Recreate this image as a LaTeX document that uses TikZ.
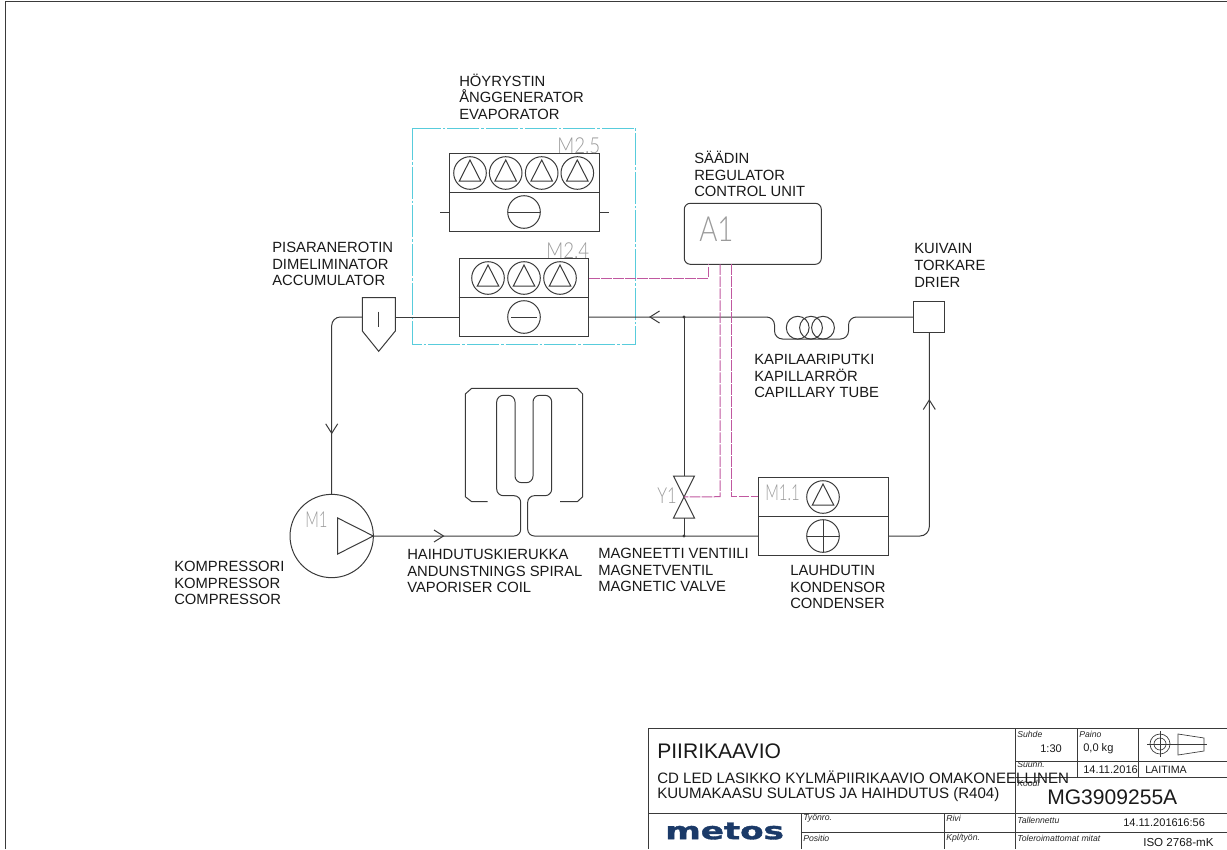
\documentclass[tikz,border=0pt]{standalone}
\usepackage{fontspec}
\usepackage{graphicx}
\setmainfont{Liberation Sans}
\newfontfamily\symfont{Lato Light}
\newfontfamily\logofont[FakeBold=1.5]{DejaVu Sans}
\definecolor{linegray}{HTML}{3A3A3A}
\definecolor{symgray}{HTML}{9A9A9A}
\definecolor{wirepink}{HTML}{C058A0}
\definecolor{boxcyan}{HTML}{58CCDC}
\definecolor{logoblue}{HTML}{1B3A68}
\tikzset{
    pipe/.style={draw=linegray, line width=0.75pt},
    unitbox/.style={draw=linegray, line width=0.75pt, inner sep=0pt},
    wire/.style={draw=wirepink, line width=0.75pt, dash pattern=on 8pt off 1pt},
    label/.style={anchor=west, align=left, inner sep=0pt, text=black!90,
        font=\fontsize{11.1}{12.45}\selectfont},
    symtext/.style={anchor=base west, inner sep=0pt, text=symgray, font=\symfont\fontsize{16.5}{18}\selectfont},
    small/.style={anchor=west, inner sep=0pt, text=black!85, font=\itshape\fontsize{6.5}{7}\selectfont},
    cell/.style={anchor=west, inner sep=0pt, text=black!90, font=\fontsize{10}{12}\selectfont},
    fan/.pic={
        \draw[pipe] (0,0) circle [radius=16.3];
        \draw[pipe] (0,-13) -- (10.7,8) -- (-10.7,8) -- cycle;
    },
    vtip/.pic={
        \draw[pipe] (-9.5,-6) -- (0,0) -- (-9.5,6);
    }
}
\begin{document}
\begin{tikzpicture}[x=0.75pt, y=-0.75pt]

    \useasboundingbox (0,0) rectangle (1227,849);

    % --- Sheet Frame ---
    \coordinate (SheetBL) at (5,849);
    \coordinate (SheetTL) at (5,1.5);
    \coordinate (SheetTR) at (1227,1.5);
    \draw[pipe] (SheetBL) -- (SheetTL) -- (SheetTR);

    % --- Define Coordinates ---
    % Main pipe heights
    \coordinate (Junction) at (684,317);
    \coordinate (ValveTop) at (684,476);
    \coordinate (ValveMid) at (684,497);
    \coordinate (ValveBot) at (684,518);
    \coordinate (Tee) at (684,536);

    % Accumulator ends
    \coordinate (AccuW) at (362.3,317);
    \coordinate (AccuE) at (395.3,317);

    % --- Evaporator ---
    \coordinate (EvapNW) at (412.7,128);
    \coordinate (EvapSE) at (635.7,344.3);
    \draw[draw=boxcyan, line width=0.7pt, dash pattern=on 24pt off 1.5pt on 2pt off 1.5pt] (EvapNW) rectangle (EvapSE);

    \node[unitbox, minimum width=112.5pt, minimum height=58.8pt] (EvapUpper) at (524.3,192.5) {};
    \node[unitbox, minimum width=97.2pt, minimum height=58.5pt] (EvapLower) at (523.9,297.3) {};
    \draw[pipe] (EvapUpper.west) -- (EvapUpper.east);
    \draw[pipe] (EvapLower.west) -- (EvapLower.east);

    % Fans of both units
    \foreach \xfan in {470,505.7,541.7,577.3} \pic at (\xfan,173) {fan};
    \foreach \xfan in {488,524,560} \pic at (\xfan,278) {fan};

    % Heat exchanger circles
    \draw[pipe] (524,212) circle [radius=16.3];
    \draw[pipe] (508,212) -- (540,212);
    \draw[pipe] (524,317) circle [radius=16.3];
    \draw[pipe] (511.3,317) -- (536.7,317);

    % Stubs of the upper unit
    \draw[pipe] (440,212) -- (EvapUpper.west |- 0,212);
    \draw[pipe] (EvapUpper.east |- 0,212) -- (609,212);

    \node[symtext] (TagUpper) at (557,153) {\scalebox{0.85}[1]{M2.5}};
    \node[symtext] (TagLower) at (546,258) {\scalebox{0.85}[1]{M2.4}};

    % --- Control Unit ---
    \node[unitbox, rounded corners=4.5pt, minimum width=102.75pt, minimum height=45.75pt] (Ctrl) at (752.8,233.8) {};
    \node[symtext, font=\symfont\fontsize{26}{28}\selectfont] (TagCtrl) at (699,241.7) {\scalebox{0.8}[1]{A1}};

    % --- Accumulator ---
    \draw[pipe] (362.3,297.7) -- (395.3,297.7) -- (395.3,331) -- (378.7,351.3) -- (362.3,331) -- cycle;
    \draw[pipe] (378.7,311.7) -- (378.7,326.7);

    % --- Compressor ---
    \node[unitbox, circle, minimum size=62.5pt] (Comp) at (331.7,536) {};
    \draw[pipe] (337.7,518) -- (373.3,536) -- (337.7,554) -- cycle;
    \node[symtext] (TagComp) at (305,527.3) {\scalebox{0.68}[1]{M1}};

    % --- Condenser ---
    \node[unitbox, minimum width=97.4pt, minimum height=58.2pt] (Cond) at (823.2,516.5) {};
    \draw[pipe] (Cond.west) -- (Cond.east);
    \pic at (823,497) {fan};
    \draw[pipe] (823,536) circle [radius=16.3];
    \draw[pipe] (807,536) -- (839,536);
    \draw[pipe] (823,520) -- (823,552);
    \node[symtext] (TagCond) at (765,500) {\scalebox{0.68}[1]{M1.1}};

    % --- Drier ---
    \node[unitbox, minimum size=23pt] (Drier) at (929.3,317) {};

    % --- Magnetic Valve ---
    \draw[pipe] (673.5,476) -- (694.5,476) -- (673.5,518) -- (694.5,518) -- cycle;
    \node[symtext] (TagValve) at (657,503) {\scalebox{0.75}[1]{Y1}};

    % --- Draw Pipes ---
    % Evaporator outlet to the compressor through the accumulator
    \draw[pipe] (EvapLower.west |- AccuE) -- (AccuE);
    \draw[pipe, rounded corners=6.5pt] (AccuW) -- (331.7,317) -- (Comp.north);

    % Liquid line into the evaporator, capillary tube
    \draw[pipe, rounded corners=6pt] (EvapLower.east |- Junction) -- (Junction) -- (774.5,317)
        -- (774.5,339) -- (848.5,339) -- (848.5,317) -- (Drier.west);
    \foreach \xcoil in {797.7,811,823} \draw[pipe] (\xcoil,327.7) circle [radius=11.4];

    % Bypass through the magnetic valve
    \draw[pipe] (Junction) -- (ValveTop);
    \draw[pipe] (ValveBot) -- (Tee);
    \fill[linegray] (Junction) circle [radius=1.6];
    \fill[linegray] (Tee) circle [radius=1.6];

    % Condenser outlet to the drier
    \draw[pipe, rounded corners=7pt] (Cond.east |- Tee) -- (929.3,536) -- (Drier.south);

    % Compressor outlet, coil inner loops, back to the condenser
    \draw[pipe, rounded corners=5pt] (373.3,536) -- (520.7,536) -- (520.7,495.7) -- (496.7,495.7)
        -- (496.7,395.3) -- (515,395.3) -- (515,482.7) -- (533,482.7) -- (533,395.3)
        -- (551.7,395.3) -- (551.7,495.7) -- (527.7,495.7) -- (527.7,536) -- (Cond.west |- Tee);

    % Coil outer loop
    \draw[pipe] (487.7,501.7) -- (471.7,501.7) -- (465.3,496.7) -- (465.3,394) -- (471.7,388.3)
        -- (577.3,388.3) -- (582.7,394) -- (582.7,496.7) -- (577.3,501.7) -- (560,501.7);

    % Flow arrows
    \pic[rotate=180] at (650,317) {vtip};
    \pic[rotate=-90] at (331.7,433.3) {vtip};
    \pic at (443.5,536) {vtip};
    \pic[rotate=90] at (929.3,400) {vtip};

    % --- Control Wires ---
    \coordinate (WireA) at (708.3,264.3);
    \coordinate (WireB) at (720,264.3);
    \coordinate (WireC) at (731,264.3);
    \draw[wire] (EvapLower.east |- 0,278.3) -- (708.3,278.3) -- (WireA);
    \draw[wire] (WireB) -- (720,496.7) -- (ValveMid);
    \draw[wire] (WireC) -- (731,496.7) -- (Cond.west |- 0,496.7);

    % --- Place Labels ---
    \node[label] (LabelEvap) at (459,96.5) {HÖYRYSTIN\\ÅNGGENERATOR\\EVAPORATOR};
    \node[label] (LabelAccu) at (272,264) {PISARANEROTIN\\DIMELIMINATOR\\ACCUMULATOR};
    \node[label] (LabelCtrl) at (694,174) {SÄÄDIN\\REGULATOR\\CONTROL UNIT};
    \node[label] (LabelDrier) at (914,265.5) {KUIVAIN\\TORKARE\\DRIER};
    \node[label] (LabelTube) at (754,376) {KAPILAARIPUTKI\\KAPILLARRÖR\\CAPILLARY TUBE};
    \node[label] (LabelComp) at (174,583) {KOMPRESSORI\\KOMPRESSOR\\COMPRESSOR};
    \node[label] (LabelCoil) at (407,571) {HAIHDUTUSKIERUKKA\\ANDUNSTNINGS SPIRAL\\VAPORISER COIL};
    \node[label] (LabelValve) at (598,570) {MAGNEETTI VENTIILI\\MAGNETVENTIL\\MAGNETIC VALVE};
    \node[label] (LabelCond) at (790,587) {LAUHDUTIN\\KONDENSOR\\CONDENSER};

    % --- Title Block ---
    \coordinate (BlockNW) at (648,728);
    \draw[pipe] (1227,728) -- (BlockNW) -- (648,849);
    \draw[pipe] (648,813) -- (1227,813);
    \draw[pipe] (801,832) -- (1227,832);
    \draw[pipe] (801,813) -- (801,849);
    \draw[pipe] (944,813) -- (944,849);
    \draw[pipe] (1015,728) -- (1015,849);
    \draw[pipe] (1077,728) -- (1077,777);
    \draw[pipe] (1138,728) -- (1138,777);
    \draw[pipe] (1015,761) -- (1227,761);
    \draw[pipe] (1015,777) -- (1227,777);

    % Projection symbol
    \draw[pipe, line width=0.5pt] (1160,744) circle [radius=10];
    \draw[pipe, line width=0.5pt] (1160,744) circle [radius=6];
    \draw[pipe, line width=0.5pt] (1147,744) -- (1207,744);
    \draw[pipe, line width=0.5pt] (1160,731) -- (1160,757);
    \draw[pipe, line width=0.5pt] (1178,734) -- (1204,738) -- (1204,751) -- (1178,755) -- cycle;

    % Block texts
    \node[cell, font=\fontsize{15.8}{18}\selectfont] (BlockTitle) at (657,751) {PIIRIKAAVIO};
    \node[cell, font=\fontsize{11.3}{13}\selectfont] (BlockLineA) at (657,777) {CD LED LASIKKO KYLMÄPIIRIKAAVIO OMAKONEELLINEN};
    \node[cell, font=\fontsize{11.3}{13}\selectfont] (BlockLineB) at (657,795) {KUUMAKAASU SULATUS JA HAIHDUTUS (R404)};
    \node[small] (Scale) at (1017,734) {Suhde};
    \node[small] (Weight) at (1079,734) {Paino};
    \node[small] (Drawn) at (1017,765) {Suunn.};
    \node[small] (Code) at (1017,783) {Koodi};
    \node[small] (JobNo) at (803,818) {Työnro.};
    \node[small] (Row) at (946,818) {Rivi};
    \node[small] (Saved) at (1017,820) {Tallennettu};
    \node[small] (Item) at (803,838) {Positio};
    \node[small] (Count) at (946,838) {Kpl/työn.};
    \node[small] (Tolerance) at (1017,838) {Toleroimattomat mitat};
    \node[cell, font=\fontsize{8.3}{10}\selectfont] (ScaleValue) at (1040,749) {1:30};
    \node[cell, font=\fontsize{8.3}{10}\selectfont] (WeightValue) at (1083,749) {0,0 kg};
    \node[cell, font=\fontsize{8.3}{10}\selectfont] (DrawnDate) at (1083,770) {14.11.2016};
    \node[cell, font=\fontsize{8}{10}\selectfont] (DrawnName) at (1145,770) {LAITIMA};
    \node[cell, font=\fontsize{15.8}{18}\selectfont] (CodeValue) at (1047,797) {MG3909255A};
    \node[cell, font=\fontsize{8.3}{10}\selectfont] (SavedDate) at (1123,823) {14.11.2016};
    \node[cell, font=\fontsize{8.3}{10}\selectfont] (SavedTime) at (1177,823) {16:56};
    \node[cell, font=\fontsize{8.7}{10}\selectfont] (Norm) at (1143,842) {ISO 2768-mK};

    % Logo
    \node[anchor=west, inner sep=0pt, text=logoblue] (Logo) at (665,831) {\resizebox{89pt}{12.5pt}{\logofont\bfseries metos}};

\end{tikzpicture}
\end{document}
